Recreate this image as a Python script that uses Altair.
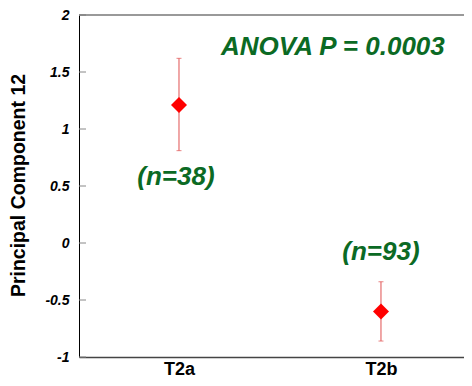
import altair as alt
import pandas as pd

groups = ["T2a", "T2b"]
group_pos = [0, 1]
means = [1.21, -0.60]
upper = [1.62, -0.34]
lower = [0.81, -0.86]

n_labels = ["(n=38)", "(n=93)"]
n_label_x = [-0.015, 1.0]
n_label_y = [0.51, -0.15]

anova_text = ["ANOVA P = 0.0003"]
anova_x = [0.762]
anova_y = [1.65]

y_ticks = [-1, -0.5, 0, 0.5, 1, 1.5, 2]

FONT = "Liberation Sans"
GREEN = "#0b6a24"

df = pd.DataFrame({"pos": group_pos, "group": groups, "mean": means, "hi": upper, "lo": lower})
df_n = pd.DataFrame({"x": n_label_x, "y": n_label_y, "t": n_labels})
df_a = pd.DataFrame({"x": anova_x, "y": anova_y, "t": anova_text})
df_ticks = pd.DataFrame({"v": y_ticks})

W, H = 385, 342

xscale = alt.Scale(domain=[-0.495, 1.411], nice=False, zero=False)
yscale = alt.Scale(domain=[-1, 2], nice=False, zero=False)

xaxis = alt.Axis(
    values=group_pos,
    labelExpr="['T2a','T2b'][datum.value]",
    title=None,
    ticks=False,
    labelFont=FONT, labelFontSize=18, labelFontWeight="bold", labelColor="black",
    labelPadding=3,
    domainColor="#444444", domainWidth=1.5,
)
yaxis = alt.Axis(
    values=y_ticks,
    labelExpr="'' + datum.value",
    ticks=False,
    labelFont=FONT, labelFontSize=14, labelFontWeight="bold", labelFontStyle="italic",
    labelColor="black", labelPadding=10,
    domainColor="black", domainWidth=1,
    title="Principal Component 12",
    titleFont=FONT, titleFontSize=19.5, titleFontWeight="bold", titleColor="black",
    titleX=-55, titleY=170, titleBaseline="alphabetic",
)

base = alt.Chart(df)

bars = base.mark_rule(color="#e05050", strokeWidth=1).encode(
    x=alt.X("pos:Q", scale=xscale, axis=xaxis),
    y=alt.Y("hi:Q", scale=yscale, axis=yaxis),
    y2="lo:Q",
)
cap_hi = base.mark_tick(orient="horizontal", size=5, thickness=1, color="#e05050").encode(
    x="pos:Q", y="hi:Q"
)
cap_lo = base.mark_tick(orient="horizontal", size=5, thickness=1, color="#e05050").encode(
    x="pos:Q", y="lo:Q"
)
pts = base.mark_point(shape="diamond", filled=True, color="#ff0000", opacity=1, size=256).encode(
    x="pos:Q", y="mean:Q"
)

ticks = alt.Chart(df_ticks).mark_rule(color="#888888", strokeWidth=1).encode(
    y="v:Q", x=alt.value(0), x2=alt.value(7)
)
top_line = alt.Chart(df_ticks).transform_filter("datum.v == 2").mark_rule(
    color="#777777", strokeWidth=1.5
).encode(y="v:Q", x=alt.value(0), x2=alt.value(W))

ntext = alt.Chart(df_n).mark_text(
    font=FONT, fontSize=26, fontWeight="bold", fontStyle="italic", color=GREEN,
    align="center", baseline="alphabetic",
).encode(x="x:Q", y="y:Q", text="t:N")
atext = alt.Chart(df_a).mark_text(
    font=FONT, fontSize=26, fontWeight="bold", fontStyle="italic", color=GREEN,
    align="center", baseline="alphabetic",
).encode(x="x:Q", y="y:Q", text="t:N")

chart = alt.layer(bars, cap_hi, cap_lo, pts, ticks, top_line, ntext, atext).properties(
    width=W, height=H,
    autosize=alt.AutoSizeParams(type="none"),
    padding={"left": 71, "top": 7, "right": 0, "bottom": 21},
).configure_view(strokeWidth=0).configure_axis(grid=False)

chart.save("out.html", embed_options={"renderer": "svg", "actions": False})
